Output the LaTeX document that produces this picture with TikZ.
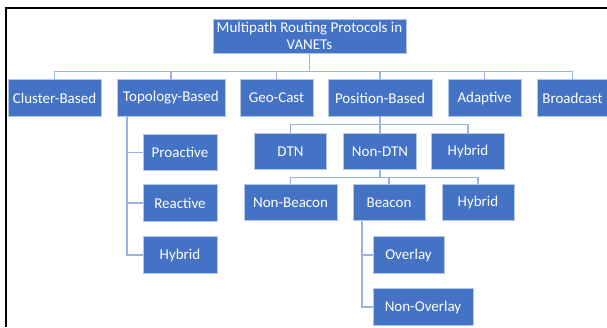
\documentclass[tikz,border=0pt]{standalone}
\usepackage{fontspec}
\setmainfont{Carlito}
\usetikzlibrary{positioning}
\definecolor{boxblue}{HTML}{4472C4}
\definecolor{boxedge}{HTML}{B4C7E7}
\definecolor{linkblue}{HTML}{9DB3DD}
\tikzset{
  box/.style={draw=boxedge, line width=0.6pt, fill=boxblue, text=white,
    minimum height=36.5pt, inner sep=2pt, outer sep=0pt, align=center,
    font=\fontsize{15}{16.5}\selectfont},
  link/.style={draw=linkblue, line width=1.1pt}
}

\begin{document}
\begin{tikzpicture}
  \useasboundingbox (0,0) rectangle (607pt,-327pt);
  \draw[line width=2pt] (607pt,-7.5pt) -| (6pt,-327pt);

  \node[box, minimum width=193pt, minimum height=34pt] (root) at (309.5pt,-36pt) {Multipath Routing Protocols in\\VANETs};

  \node[box, minimum width=93pt] (cluster) at (54.5pt,-98pt) {Cluster-Based};
  \node[box, minimum width=108pt, right=16pt of cluster] (topology) {Topology-Based};
  \node[box, minimum width=73pt, right=15pt of topology] (geocast) {Geo-Cast};
  \node[box, minimum width=104pt, right=15pt of geocast] (position) {Position-Based};
  \node[box, minimum width=73pt, right=16pt of position] (adaptive) {Adaptive};
  \node[box, minimum width=71pt, right=16pt of adaptive] (broadcast) {Broadcast};

  \node[box, minimum width=74pt, below right=18pt and 26pt of topology.south west] (proactive) {Proactive};
  \node[box, minimum width=74pt, below=14pt of proactive] (reactive) {Reactive};
  \node[box, minimum width=74pt, below=15.5pt of reactive] (hybridtopo) {Hybrid};

  \node[box, minimum width=73pt, below=17pt of position] (nondtn) {Non-DTN};
  \node[box, minimum width=72pt, left=17pt of nondtn] (dtn) {DTN};
  \node[box, minimum width=73pt, right=15pt of nondtn] (hybridpos) {Hybrid};

  \node[box, minimum width=93pt, below=14.5pt of dtn] (nonbeacon) {Non-Beacon};
  \node[box, minimum width=72pt, right=16pt of nonbeacon] (beacon) {Beacon};
  \node[box, minimum width=72pt, right=17pt of beacon] (hybridnondtn) {Hybrid};

  \node[box, minimum width=71pt, below right=16pt and 20pt of beacon.south west] (overlay) {Overlay};
  \node[box, minimum width=100pt, below right=15.5pt and 0pt of overlay.south west] (nonoverlay) {Non-Overlay};

  \foreach \c in {cluster,topology,geocast,position,adaptive,broadcast}
    \draw[link] (\c.north) -- ++(0,8pt) -| (root.south);
  \foreach \c in {dtn,nondtn,hybridpos}
    \draw[link] (\c.north) -- ++(0,9pt) -| (position.south);
  \foreach \c in {nonbeacon,beacon,hybridnondtn}
    \draw[link] (\c.north) -- ++(0,7pt) -| (nondtn.south);
  \foreach \c in {proactive,reactive,hybridtopo}
    \draw[link] ([xshift=10pt]topology.south west) |- (\c.west);
  \foreach \c in {overlay,nonoverlay}
    \draw[link] ([xshift=9pt]beacon.south west) |- (\c.west);
\end{tikzpicture}
\end{document}
